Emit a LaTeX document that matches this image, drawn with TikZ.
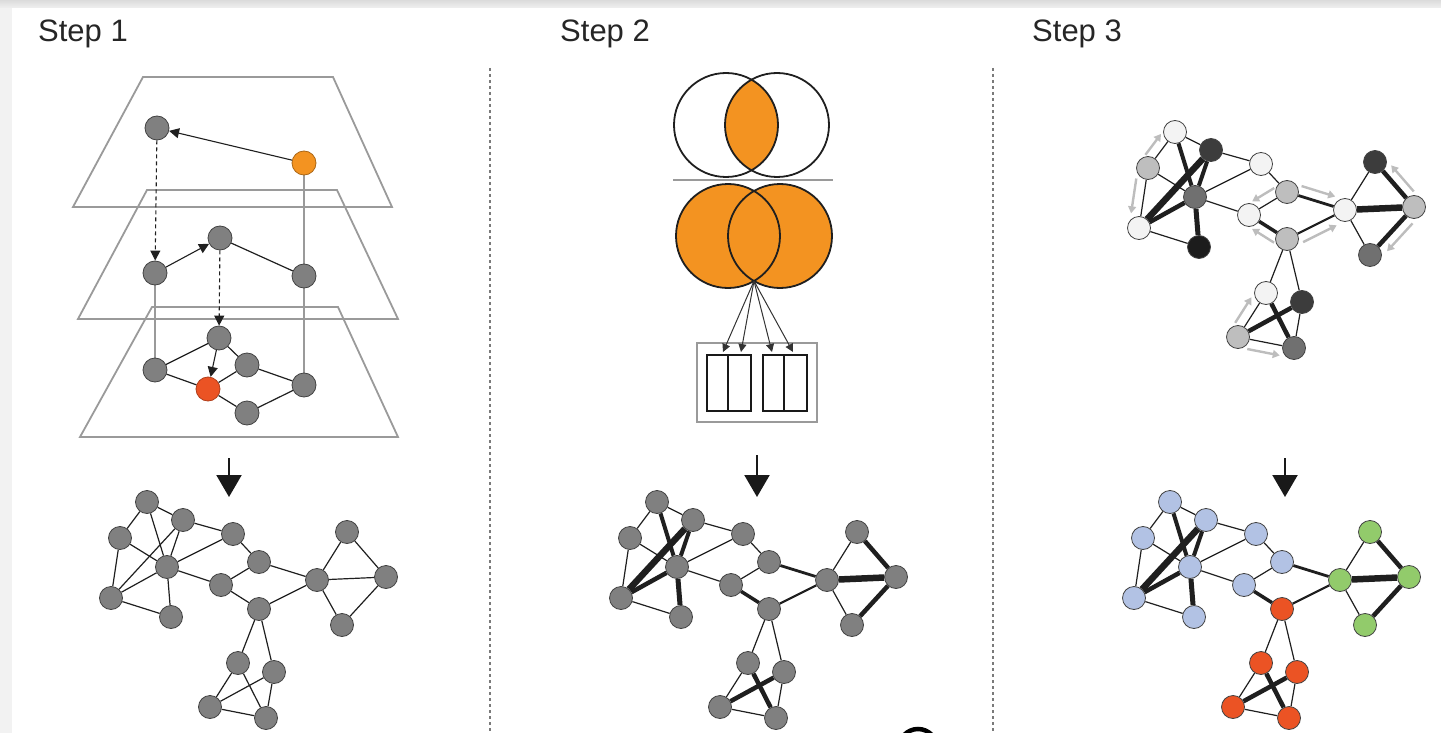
\documentclass[tikz,border=0pt]{standalone}
\usepackage{fontspec}
\setmainfont{Liberation Sans}
\usetikzlibrary{arrows.meta,calc,backgrounds}

\definecolor{ngray}{HTML}{808080}
\definecolor{ndraw}{HTML}{424242}
\definecolor{vorange}{HTML}{F39321}
\definecolor{nred}{HTML}{EB5324}
\definecolor{nblue}{HTML}{B2C2E4}
\definecolor{ngreen}{HTML}{92CB6B}
\definecolor{vlight}{HTML}{F3F3F3}
\definecolor{lgray}{HTML}{BEBEBE}
\definecolor{mgray}{HTML}{707070}
\definecolor{dgray}{HTML}{3C3C3C}
\definecolor{blk}{HTML}{1C1C1C}
\definecolor{planegray}{HTML}{9A9A9A}
\definecolor{edgecol}{HTML}{1F1F1F}
\definecolor{hintgray}{HTML}{BDBDBD}
\definecolor{sepgray}{HTML}{7A7A7A}

% store one fill colour per network node under the given prefix
\newcommand\setfills[2]{\foreach \c [count=\k] in {#2}{\expandafter\xdef\csname #1fill\k\endcsname{\c}}}

% the 18-node network; #1 prefix, #2/#3 offset, #4 = 1 draws weighted edges
\newcommand\drawnet[4]{%
  \foreach \i/\x/\y in {1/147/502,2/183/520,3/120/538,4/167/567,5/111/598,6/171/617,
      7/233/534,8/259/562,9/221/585,10/259/609,11/317/580,12/347/532,13/386/577,
      14/342/625,15/238/663,16/274/672,17/210/707,18/266/718}{%
    \edef\nf{\csname #1fill\i\endcsname}%
    \node[netnode, fill=\nf] (#1\i) at (\x+#2,\y+#3) {};}
  \begin{scope}[on background layer]
    \foreach \u/\v in {1/2,1/3,2/7,3/4,3/5,4/7,4/9,5/6,7/8,8/9,10/15,10/16,
        11/12,11/14,15/17,16/18,17/18}{\draw[thinedge] (#1\u) -- (#1\v);}
    \foreach \u/\v/\w in {1/4/4,2/4/4,2/5/6.5,4/5/4.5,4/6/5,8/11/2.8,9/10/3.5,
        10/11/2.2,11/13/6.5,12/13/4.5,13/14/4.5,15/18/4.5,16/17/4.5}{%
      \ifnum#4=1 \draw[thinedge, line width=\w pt] (#1\u) -- (#1\v);%
      \else \draw[thinedge] (#1\u) -- (#1\v);\fi}
  \end{scope}
}

% light grey arrow running beside an edge
\newcommand\hint[3]{\draw[hint] ($(#1)!0.2!(#2)!10pt!#3:(#2)$) -- ($(#2)!0.22!(#1)!10pt!-#3:(#1)$);}

\begin{document}
\begin{tikzpicture}[x=1pt, y=-1pt,
  netnode/.style={circle, minimum size=23pt, inner sep=0pt, draw=ndraw, line width=0.8pt},
  pnode/.style={netnode, minimum size=24pt, fill=ngray},
  thinedge/.style={draw=edgecol, line width=1.2pt},
  plane/.style={draw=planegray, line width=1.8pt},
  vline/.style={draw=planegray, line width=1.4pt},
  parrow/.style={draw=edgecol, line width=1.1pt, -{Triangle[length=10pt,width=10pt]}},
  pdash/.style={parrow, dash pattern=on 4pt off 3pt},
  bigarrow/.style={draw=black!90, line width=2.2pt, -{Triangle[length=22pt,width=25pt]}},
  hint/.style={draw=hintgray, line width=2.4pt, -{Triangle[length=7pt,width=8pt]}},
  sepline/.style={draw=sepgray, line width=1.2pt, dash pattern=on 3pt off 3pt},
  steptext/.style={font=\fontsize{31}{36}\selectfont, text=black!85, inner sep=0pt},
  venn/.style={draw=black!88, line width=1.8pt},
  boxline/.style={draw=black!90, line width=1.8pt},
]
\useasboundingbox (0,0) rectangle (1441,733);
\shade[top color=black!14, bottom color=black!6] (0,0) rectangle (1441,8);
\fill[black!5] (0,8) rectangle (12,733);

% headings
\node[steptext, anchor=base west] (h1) at (38,42) {Step 1};
\node[steptext, anchor=base west] (h2) at (560,42) {Step 2};
\node[steptext, anchor=base west] (h3) at (1032,42) {Step 3};

% column separators
\draw[sepline] (490,68) -- (490,733);
\draw[sepline] (993,68) -- (993,733);

% ---------- Step 1: stacked layers ----------
\draw[plane] (143,77) -- (333,77) -- (392,207) -- (73,207) -- cycle;
\draw[plane] (147,190) -- (337,190) -- (398,319) -- (78,319) -- cycle;
\draw[plane] (152,307) -- (338,307) -- (398,437) -- (80,437) -- cycle;

\node[pnode] (pa) at (157,128) {};
\node[pnode, fill=vorange, draw=vorange!70!black] (po) at (304,163) {};
\node[pnode] (pb) at (155,273) {};
\node[pnode] (pc) at (220,238) {};
\node[pnode] (pd) at (304,276) {};
\node[pnode] (pe) at (219,338) {};
\node[pnode] (pf) at (155,370) {};
\node[pnode] (pg) at (247,365) {};
\node[pnode, fill=nred, draw=nred!75!black] (ph) at (208,389) {};
\node[pnode] (pi) at (304,385) {};
\node[pnode] (pj) at (247,413) {};

\begin{scope}[on background layer]
  \draw[vline] (po) -- (pd);
  \draw[vline] (pd) -- (pi);
  \draw[vline] (pb) -- (pf);
\end{scope}
\draw[parrow] (po) -- (pa);
\draw[pdash] (pa) -- (pb);
\draw[parrow] (pb) -- (pc);
\draw[thinedge] (pc) -- (pd);
\draw[pdash] (pc) -- (pe);
\draw[thinedge] (pe) -- (pf);
\draw[thinedge] (pe) -- (pg);
\draw[parrow] (pe) -- (ph);
\draw[thinedge] (pf) -- (ph);
\draw[thinedge] (ph) -- (pg);
\draw[thinedge] (pg) -- (pi);
\draw[thinedge] (ph) -- (pj);
\draw[thinedge] (pj) -- (pi);

% ---------- Step 2: overlap scoring ----------
\begin{scope}
  \clip (726,125) circle [radius=52pt];
  \fill[vorange] (777,125) circle [radius=52pt];
\end{scope}
\draw[venn] (726,125) circle [radius=52pt];
\draw[venn] (777,125) circle [radius=52pt];
\draw[draw=planegray, line width=2pt] (673,180) -- (833,180);
\fill[vorange] (728,236) circle [radius=52pt];
\fill[vorange] (780,236) circle [radius=52pt];
\draw[venn] (728,236) circle [radius=52pt];
\draw[venn] (780,236) circle [radius=52pt];

\draw[draw=planegray, line width=1.5pt] (697,343) rectangle (817,422);
\draw[boxline] (707,355) rectangle (751,411);
\draw[boxline] (728,355) -- (728,411);
\draw[boxline] (763,355) rectangle (807,411);
\draw[boxline] (784,355) -- (784,411);

\coordinate (lens) at (754,281);
\coordinate (t1) at (723,352);
\coordinate (t2) at (741,352);
\coordinate (t3) at (772,352);
\coordinate (t4) at (793,352);
\foreach \t in {t1,t2,t3,t4}
  \draw[draw=black!80, line width=1pt, -{Triangle[length=8pt,width=8pt]}] (lens) -- (\t);

% ---------- downward arrows ----------
\coordinate (a1s) at (229,458); \coordinate (a1e) at (229,497);
\coordinate (a2s) at (757,455); \coordinate (a2e) at (757,497);
\coordinate (a3s) at (1285,458); \coordinate (a3e) at (1285,497);
\draw[bigarrow] (a1s) -- (a1e);
\draw[bigarrow] (a2s) -- (a2e);
\draw[bigarrow] (a3s) -- (a3e);

% ---------- networks ----------
\setfills{a}{ngray,ngray,ngray,ngray,ngray,ngray,ngray,ngray,ngray,ngray,ngray,ngray,ngray,ngray,ngray,ngray,ngray,ngray}
\drawnet{a}{0}{0}{0}

\setfills{b}{ngray,ngray,ngray,ngray,ngray,ngray,ngray,ngray,ngray,ngray,ngray,ngray,ngray,ngray,ngray,ngray,ngray,ngray}
\drawnet{b}{510}{0}{1}

\setfills{c}{vlight,dgray,lgray,mgray,vlight,blk,vlight,lgray,vlight,lgray,vlight,dgray,lgray,mgray,vlight,dgray,lgray,mgray}
\drawnet{c}{1028}{-370}{1}

\setfills{d}{nblue,nblue,nblue,nblue,nblue,nblue,nblue,nblue,nblue,nred,ngreen,ngreen,ngreen,ngreen,nred,nred,nred,nred}
\drawnet{d}{1023}{0}{1}

% propagation hints
\hint{c3}{c1}{90}
\hint{c3}{c5}{270}
\hint{c8}{c9}{270}
\hint{c8}{c11}{90}
\hint{c10}{c9}{90}
\hint{c10}{c11}{270}
\hint{c13}{c12}{270}
\hint{c13}{c14}{90}
\hint{c17}{c15}{90}
\hint{c17}{c18}{270}

% ring at the lower edge
\begin{scope}
  \clip (0,0) rectangle (1441,733);
  \draw[black, line width=4.5pt] (918,748) circle [radius=19pt];
\end{scope}
\end{tikzpicture}
\end{document}
